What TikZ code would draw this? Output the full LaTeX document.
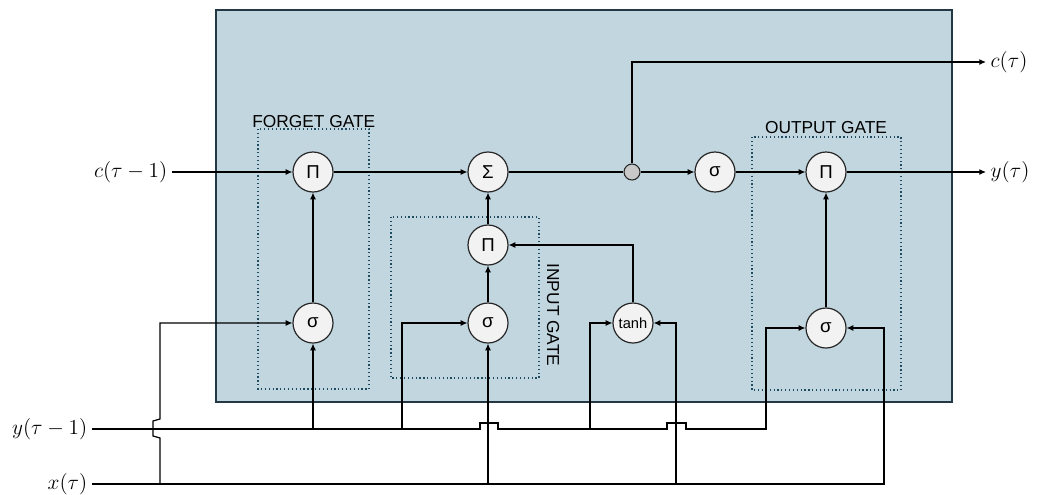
\RequirePackage{fix-cm}
\documentclass[tikz,border=0pt]{standalone}
\usepackage{amsmath}
\usepackage{fontspec}
\setmainfont{Liberation Sans}
\usetikzlibrary{positioning,calc}
\usetikzlibrary{arrows.meta}
\definecolor{CellBlue}{RGB}{194,214,224}
\definecolor{CellEdge}{RGB}{35,55,68}
\definecolor{GateDot}{RGB}{30,75,95}
\definecolor{OpFill}{RGB}{242,242,242}
\definecolor{TapFill}{RGB}{200,200,200}
\tikzset{op/.style={circle,draw=black!85,fill=OpFill,line width=0.9pt,minimum size=30pt,inner sep=0pt,font=\fontsize{14}{16}\selectfont}, tap/.style={circle,draw=black!85,fill=TapFill,line width=0.8pt,minimum size=12pt,inner sep=0pt}, gatebox/.style={draw=GateDot,dotted,line width=0.9pt}, wire/.style={line width=0.9pt,-{Latex[length=5pt,width=4.5pt]}}, bare/.style={line width=0.9pt}, sig/.style={font=\fontsize{16}{19}\selectfont}, gatename/.style={font=\fontsize{13}{15}\selectfont,inner sep=0pt}}

\begin{document}
\begin{tikzpicture}[x=0.75pt,y=-0.75pt]
\useasboundingbox (0,0) rectangle (1046,494);
\draw[fill=CellBlue,draw=CellEdge,line width=0.9pt] (216,10) rectangle (952,402);
\draw[gatebox] (258,129) rectangle (369,389);
\draw[gatebox] (391,217) rectangle (539,378);
\draw[gatebox] (752,137) rectangle (901,390);
\node[gatename,anchor=base west] (fglab) at (252,127) {FORGET GATE};
\node[gatename,anchor=base] (oglab) at (826,133) {OUTPUT GATE};
\node[gatename,rotate=-90] (iglab) at (553,315) {INPUT GATE};
\node[op] (fprod) at (313,172) {Π};
\node[op] (sum) at (488,172) {Σ};
\node[op] (iprod) at (488,245) {Π};
\node[op] (fsig) at (313,323) {σ};
\node[op] (isig) at (488,323) {σ};
\node[op,font=\fontsize{11}{13}\selectfont] (cand) at (633,323) {tanh};
\node[op] (osig) at (826,328) {σ};
\node[tap] (split) at (632,172) {};
\node[op] (csig) at (715,172) {σ};
\node[op] (oprod) at (826,172) {Π};
\node[sig,anchor=east] (cin) at (172,172) {$c(\tau-1)$};
\node[sig,anchor=east] (yin) at (92,429) {$y(\tau-1)$};
\node[sig,anchor=east] (xin) at (92,484) {$x(\tau)$};
\node[sig,anchor=west] (cout) at (986,62) {$c(\tau)$};
\node[sig,anchor=west] (yout) at (986,172) {$y(\tau)$};
\draw[wire] (cin) -- (fprod);
\draw[wire] (fprod) -- (sum);
\draw[bare] (sum) -- (split);
\draw[wire] (split) -- (csig);
\draw[wire] (csig) -- (oprod);
\draw[wire] (oprod) -- (yout);
\draw[wire] (split) |- (cout);
\draw[wire] (fsig) -- (fprod);
\draw[wire] (isig) -- (iprod);
\draw[wire] (iprod) -- (sum);
\draw[wire] (cand) |- (iprod);
\draw[wire] (osig) -- (oprod);
\draw[wire] (yin) -- (480,429) -- (480,423) -- (498,423) -- (498,429) -- (667,429) -- (667,423) -- (686,423) -- (686,429) -- (766,429) |- (osig);
\draw[wire] (fsig |- yin) -- (fsig);
\draw[wire] (402,429) |- (isig);
\draw[wire] (590,429) |- (cand);
\draw[wire] (xin) -- (884,484) |- (osig);
\draw[wire] (isig |- xin) -- (isig);
\draw[wire] (676,484) |- (cand);
\draw[wire] (160,484) -- (160,438) -- (153,436) -- (153,421) -- (160,419) |- (fsig);
\end{tikzpicture}
\end{document}
